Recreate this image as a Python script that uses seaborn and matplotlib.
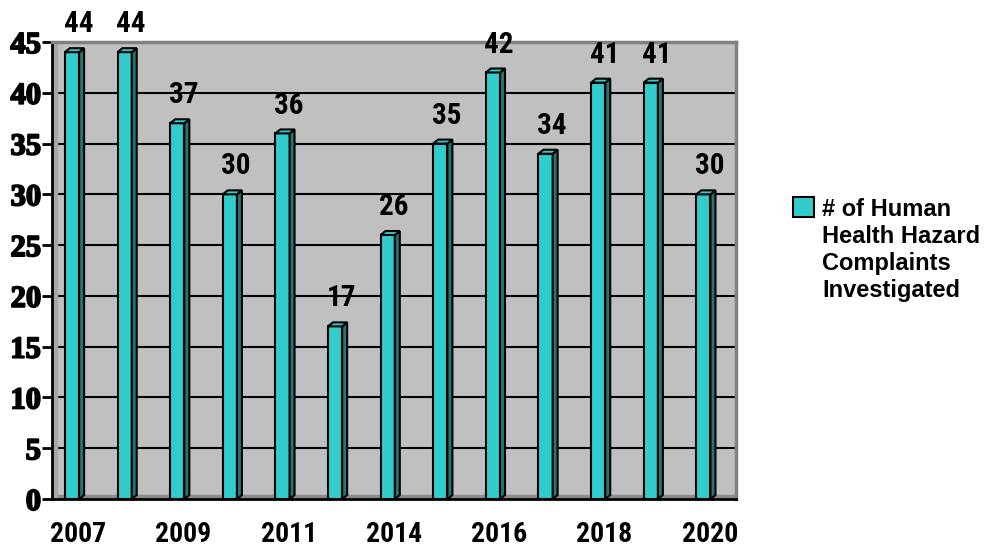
import numpy as np
import pandas as pd
import seaborn as sns
import matplotlib.pyplot as plt
import matplotlib.patheffects as pe
from matplotlib.patches import Polygon, Rectangle

# data
years = ['2007', '2008', '2009', '2010', '2011', '2013', '2014',
         '2015', '2016', '2017', '2018', '2019', '2020']
complaints = [44, 44, 37, 30, 36, 17, 26, 35, 42, 34, 41, 41, 30]
y_ticks = [0, 5, 10, 15, 20, 25, 30, 35, 40, 45]
series_name = '# of Human\nHealth Hazard\nComplaints\nInvestigated'

df = pd.DataFrame({'year': years, 'count': complaints})

sns.set_style('white')
plt.rcParams['text.color'] = 'black'
plt.rcParams['xtick.color'] = 'black'
plt.rcParams['ytick.color'] = 'black'
sans = ['Roboto Condensed', 'Liberation Sans', 'DejaVu Sans']

fig = plt.figure(figsize=(10.03, 5.48), dpi=100)
ax = fig.add_axes([52 / 1003, 49 / 548, 684 / 1003, 457 / 548])
ax.set_facecolor('#C0C0C0')

face = '#33CCCC'
side = '#267373'
dx, dy = 0.095, 0.39  # fake 3d depth, in data units

sns.barplot(data=df, x='year', y='count', color=face, saturation=1,
            edgecolor='black', linewidth=1.5, width=0.27, ax=ax, zorder=3)

for p in ax.patches:
    p.set_x(p.get_x() - 0.12)
    x0, w, h = p.get_x(), p.get_width(), p.get_height()
    ax.add_patch(Polygon([(x0 + w, 0), (x0 + w + dx, dy), (x0 + w + dx, h + dy), (x0 + w, h)],
                         closed=True, facecolor=side, edgecolor='black', lw=1.5, zorder=3))
    ax.add_patch(Polygon([(x0, h), (x0 + dx, h + dy), (x0 + w + dx, h + dy), (x0 + w, h)],
                         closed=True, facecolor=face, edgecolor='black', lw=1.5, zorder=3))

# value labels above bars
for i, v in enumerate(complaints):
    ax.annotate(str(v), (i, v), xytext=(0, 10), textcoords='offset points',
                ha='center', va='bottom', fontsize=21, fontweight='bold',
                family=sans, color='black', annotation_clip=False)

# floor and side wall
ax.axhspan(0, dy, color='#8C8C8C', zorder=1)
ax.axvspan(-0.5, -0.5 + dx, color='#A8A8A8', zorder=1)

ax.set_xlim(-0.5, 12.5)
ax.set_ylim(0, 45)
ax.set_yticks(y_ticks, labels=[str(t) for t in y_ticks],
              fontfamily='Liberation Serif', fontweight='bold', fontsize=22)
for lab in ax.get_yticklabels():
    lab.set_path_effects([pe.withStroke(linewidth=1.3, foreground='black')])
ax.set_axisbelow(True)
ax.yaxis.grid(True, color='black', lw=1.5)
ax.xaxis.grid(False)

ax.set_xticks(range(0, 13, 2), labels=years[::2], fontfamily=sans,
              fontweight='bold', fontsize=20)
ax.set_xticks(np.arange(-0.5, 13, 1), minor=True)
ax.tick_params(axis='x', which='major', length=0, pad=16)
ax.tick_params(axis='x', which='minor', length=8, width=2, color='black', direction='out')
ax.tick_params(axis='y', length=7, width=2, color='black', direction='out', pad=1, left=True)

ax.set_xlabel('')
ax.set_ylabel('')
for s in ['left', 'bottom']:
    ax.spines[s].set_color('black')
    ax.spines[s].set_linewidth(2)
for s in ['top', 'right']:
    ax.spines[s].set_color('#808080')
    ax.spines[s].set_linewidth(2.5)

# legend drawn by hand so the swatch sits at the first line
fig.patches.append(Rectangle((793 / 1003, 1 - 217 / 548), 21 / 1003, 20 / 548,
                             transform=fig.transFigure, facecolor=face,
                             edgecolor='black', lw=1.5))
fig.text(822 / 1003, 1 - 198 / 548, series_name, ha='left', va='top',
         fontsize=17, fontweight='bold', family=['Liberation Sans', 'DejaVu Sans'],
         linespacing=1.22)

fig.savefig('out.png', dpi=100, facecolor='white')
